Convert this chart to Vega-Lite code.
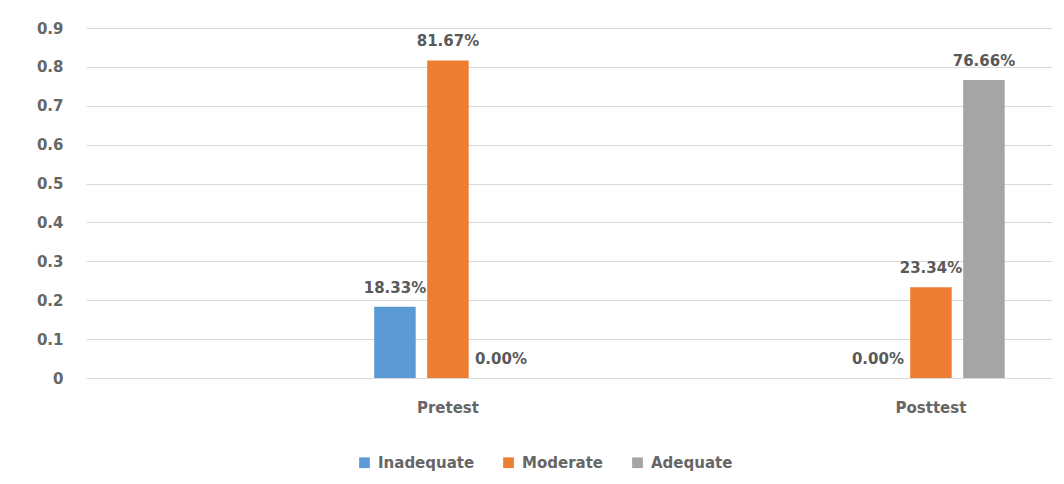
{
  "$schema": "https://vega.github.io/schema/vega-lite/v6.json",
  "autosize": {"type": "none"},
  "width": 966,
  "height": 350,
  "padding": {"left": 86, "top": 28, "right": 12, "bottom": 106},
  "background": "#ffffff",
  "data": {
    "values": [
      {"test": "Pretest", "level": "Inadequate", "value": 0.1833},
      {"test": "Pretest", "level": "Moderate", "value": 0.8167},
      {"test": "Pretest", "level": "Adequate", "value": 0.0},
      {"test": "Posttest", "level": "Inadequate", "value": 0.0},
      {"test": "Posttest", "level": "Moderate", "value": 0.2334},
      {"test": "Posttest", "level": "Adequate", "value": 0.7666}
    ]
  },
  "encoding": {
    "x": {
      "field": "test",
      "type": "nominal",
      "sort": ["Pretest", "Posttest"],
      "scale": {"paddingInner": 0.6946, "paddingOuter": 0.3473, "align": 0.859},
      "axis": {
        "title": null,
        "domain": false,
        "ticks": false,
        "labelAngle": 0,
        "labelPadding": 22,
        "labelFont": "DejaVu Sans",
        "labelFontWeight": "bold",
        "labelFontSize": 15,
        "labelColor": "#666666"
      }
    },
    "xOffset": {
      "field": "level",
      "type": "nominal",
      "sort": ["Inadequate", "Moderate", "Adequate"],
      "scale": {"paddingInner": 0.217, "paddingOuter": 0}
    },
    "y": {
      "field": "value",
      "type": "quantitative",
      "scale": {"domain": [0, 0.9], "nice": false},
      "axis": {
        "title": null,
        "values": [0, 0.1, 0.2, 0.3, 0.4, 0.5, 0.6, 0.7, 0.8, 0.9],
        "format": "~g",
        "domain": false,
        "ticks": false,
        "grid": true,
        "gridColor": "#d9d9d9",
        "gridWidth": 1,
        "labelPadding": 23,
        "labelFont": "DejaVu Sans",
        "labelFontWeight": "bold",
        "labelFontSize": 15,
        "labelColor": "#666666"
      }
    }
  },
  "layer": [
    {
      "mark": {"type": "bar"},
      "encoding": {
        "color": {
          "field": "level",
          "type": "nominal",
          "sort": ["Inadequate", "Moderate", "Adequate"],
          "scale": {
            "domain": ["Inadequate", "Moderate", "Adequate"],
            "range": ["#5B9BD5", "#ED7D31", "#A5A5A5"]
          },
          "legend": {
            "title": null,
            "orient": "none",
            "direction": "horizontal",
            "columns": 3,
            "legendX": 271,
            "legendY": 427,
            "padding": 0,
            "symbolType": "square",
            "symbolSize": 115,
            "symbolStrokeWidth": 0,
            "labelOffset": 6,
            "columnPadding": 26,
            "labelFont": "DejaVu Sans",
            "labelFontWeight": "bold",
            "labelFontSize": 15,
            "labelColor": "#666666"
          }
        }
      }
    },
    {
      "mark": {
        "type": "text",
        "baseline": "alphabetic",
        "align": "center",
        "dy": -14,
        "font": "DejaVu Sans",
        "fontWeight": "bold",
        "fontSize": 15,
        "color": "#595959"
      },
      "encoding": {
        "text": {"field": "value", "type": "quantitative", "format": ".2%"}
      }
    }
  ],
  "config": {"view": {"stroke": null}}
}
